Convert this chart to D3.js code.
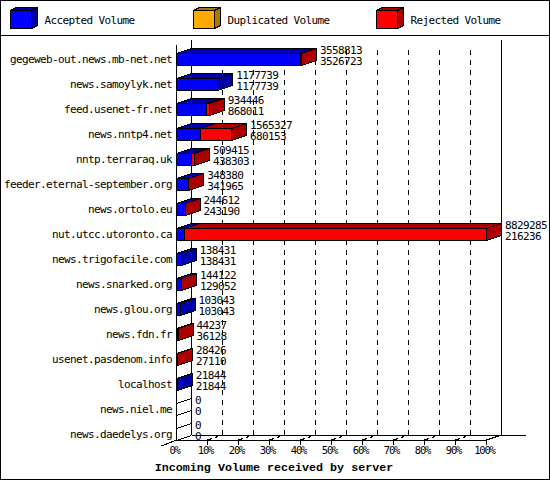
<!DOCTYPE html>
<html>
<head>
<meta charset="utf-8">
<title>Incoming Volume received by server</title>
<script src="https://cdn.jsdelivr.net/npm/d3@7"></script>
<style>
  html, body { margin: 0; padding: 0; background: #fff; }
  svg { display: block; }
  text { font-family: "DejaVu Sans Mono", monospace; font-size: 11px; letter-spacing: -0.62px; fill: #000; }
  .tick-lbl text { font-size: 10.5px; letter-spacing: -1.2px; }
  .title { font-family: "Liberation Mono", monospace; font-size: 11.7px; letter-spacing: 0; font-weight: bold; }
</style>
</head>
<body>
<svg id="chart" width="550" height="480"></svg>
<script>
/* ── Values ──────────────────────────────────────────────── */
const hosts = [
  "gegeweb-out.news.mb-net.net", "news.samoylyk.net", "feed.usenet-fr.net",
  "news.nntp4.net", "nntp.terraraq.uk", "feeder.eternal-september.org",
  "news.ortolo.eu", "nut.utcc.utoronto.ca", "news.trigofacile.com",
  "news.snarked.org", "news.glou.org", "news.fdn.fr",
  "usenet.pasdenom.info", "localhost", "news.niel.me", "news.daedelys.org"
];
const offered = [3558813, 1177739, 934446, 1565327, 509415, 348380, 244612, 8829285,
                 138431, 144122, 103043, 44237, 28426, 21844, 0, 0];
const accepted = [3526723, 1177739, 868011, 680153, 438303, 341965, 243190, 216236,
                  138431, 129052, 103043, 36128, 27110, 21844, 0, 0];
const duplicated = [0, 0, 0, 0, 0, 0, 0, 0, 0, 0, 0, 0, 0, 0, 0, 0];
const rejected = [32090, 0, 66435, 885174, 71112, 6415, 1422, 8613049,
                  0, 15070, 0, 8109, 1316, 0, 0, 0];
const legendNames = ["Accepted Volume", "Duplicated Volume", "Rejected Volume"];
const pctTicks = [0, 10, 20, 30, 40, 50, 60, 70, 80, 90, 100];

const FRONT  = ["#0000ff", "#ffaa00", "#ff0000"];
const SHADE  = ["#0000aa", "#aa7700", "#aa0000"];
const DX = 15, DY = -5;      /* depth of the 3D effect */
const BAR_H = 12;

const svg = d3.select("#chart");

/* ── Scales ──────────────────────────────────────────────── */
const maxVol = d3.max(offered);
const x   = d3.scaleLinear().domain([0, maxVol]).range([176, 486]);
const pct = d3.scaleLinear().domain([0, 100]).range([176, 486]);
const y   = d3.scalePoint().domain(d3.range(hosts.length)).range([59, 434]);
const yTop = 40, yFloor = 440;

const px = v => Math.round(v) + 0.5;
const poly = pts => pts.map(p => p.join(",")).join(" ");

/* ── Frame and legend ────────────────────────────────────── */
svg.append("rect").attr("x", 0.5).attr("y", 0.5).attr("width", 549).attr("height", 479)
  .attr("fill", "#fff").attr("stroke", "#000");
svg.append("line").attr("x1", 0).attr("x2", 550).attr("y1", 35.5).attr("y2", 35.5)
  .attr("stroke", "#000");

const root = svg.append("g").attr("shape-rendering", "crispEdges");

function box3d(g, x0, x1, top, bottom, dx, dy, front, shade, showSide) {
  g.append("polygon")
    .attr("points", poly([[x0, top], [x0 + dx, top + dy], [x1 + dx, top + dy], [x1, top]]))
    .attr("fill", shade).attr("stroke", "#000");
  if (showSide) {
    g.append("polygon")
      .attr("points", poly([[x1, top], [x1 + dx, top + dy], [x1 + dx, bottom + dy], [x1, bottom]]))
      .attr("fill", shade).attr("stroke", "#000");
  }
  g.append("rect").attr("x", x0).attr("y", top).attr("width", x1 - x0).attr("height", bottom - top)
    .attr("fill", front).attr("stroke", "#000");
}

const legendX = d3.scalePoint().domain(d3.range(3)).range([10.5, 376.5]);
legendNames.forEach((name, i) => {
  const lx = legendX(i);
  box3d(root.append("g"), lx, lx + 21, 10.5, 28.5, 6, -3, FRONT[i], SHADE[i], true);
  svg.append("text").attr("x", lx + 34).attr("y", 20).attr("dy", "0.35em").text(name);
});

/* ── Walls, grid, floor ──────────────────────────────────── */
const walls = root.append("g").attr("stroke", "#000").attr("fill", "none");
const backY = yFloor + DY;
walls.append("line").attr("x1", px(x(0)) + DX).attr("x2", px(x(0)) + DX).attr("y1", yTop).attr("y2", backY);
walls.append("line").attr("x1", px(x(maxVol)) + DX).attr("x2", px(x(maxVol)) + DX).attr("y1", yTop).attr("y2", backY);
walls.append("line").attr("x1", px(x(0))).attr("x2", px(x(0))).attr("y1", yTop + 5).attr("y2", yFloor);
walls.append("line").attr("x1", px(x(0)) + DX).attr("x2", 526).attr("y1", backY + 0.5).attr("y2", backY + 0.5);
walls.append("line").attr("x1", px(x(0))).attr("x2", px(x(maxVol))).attr("y1", yFloor + 0.5).attr("y2", yFloor + 0.5);
walls.append("line").attr("x1", px(x(0)) - 15).attr("x2", px(x(0))).attr("y1", yFloor + 6).attr("y2", yFloor);
walls.append("line").attr("x1", px(x(maxVol))).attr("x2", px(x(maxVol)) + DX).attr("y1", yFloor).attr("y2", backY);

pctTicks.slice(1, -1).forEach(t => {
  const gx = px(pct(t));
  walls.append("line").attr("x1", gx + DX).attr("x2", gx + DX).attr("y1", 50).attr("y2", backY)
    .attr("stroke-dasharray", "5,5");
  walls.append("line").attr("x1", gx).attr("x2", gx + DX).attr("y1", yFloor).attr("y2", backY)
    .attr("stroke-dasharray", "5,3,3,4");
});

/* ── Axes ────────────────────────────────────────────────── */
const xAxis = d3.axisBottom(pct).tickValues(pctTicks).tickFormat(d => d + "%").tickSize(5).tickPadding(2);
const gx = svg.append("g").attr("class", "tick-lbl")
  .attr("transform", `translate(0,${yFloor})`).call(xAxis);
gx.select(".domain").remove();
gx.selectAll("line").attr("stroke", "#000").attr("shape-rendering", "crispEdges")
  .attr("display", d => d === 0 ? "none" : null);
gx.selectAll("text").attr("dx", -2);
gx.attr("font-family", null).attr("font-size", null);

const yAxis = d3.axisLeft(y).tickFormat(i => hosts[i]).tickSize(0).tickPadding(0);
const gy = svg.append("g").attr("transform", "translate(172,0)").call(yAxis);
gy.select(".domain").remove();
gy.attr("font-family", null).attr("font-size", null);

/* ── Bars, top row first so lower rows sit in front ──────── */
hosts.forEach((host, i) => {
  const g = root.append("g");
  const top = y(i) - 6 + 0.5, bottom = top + BAR_H;
  const parts = [accepted[i], duplicated[i], rejected[i]];
  let cum = 0;
  let lastColor = 0;
  parts.forEach((v, k) => { if (v > 0) lastColor = k; });

  if (offered[i] === 0) {
    /* empty bar: only the two depth edges are left */
    [top, bottom].forEach(yy => {
      g.append("line").attr("x1", px(x(0))).attr("x2", px(x(0)) + DX)
        .attr("y1", yy).attr("y2", yy + DY).attr("stroke", "#000");
    });
  }

  parts.forEach((v, k) => {
    if (v === 0) return;
    const x0 = px(x(cum));
    const x1 = px(x(cum + v));
    cum += v;
    box3d(g, x0, x1, top, bottom, DX, DY, FRONT[k], SHADE[k], k === lastColor);
  });
});

/* ── Value labels ────────────────────────────────────────── */
hosts.forEach((host, i) => {
  const lx = x(offered[i]) + DX + 4;
  svg.append("text").attr("x", lx).attr("y", y(i) - 9).attr("dy", "0.35em").text(offered[i]);
  svg.append("text").attr("x", lx).attr("y", y(i) + 2).attr("dy", "0.35em").text(accepted[i]);
});

/* ── Title ───────────────────────────────────────────────── */
svg.append("text").attr("class", "title").attr("x", 274).attr("y", 467).attr("dy", "0.35em")
  .attr("text-anchor", "middle").text("Incoming Volume received by server");
</script>
</body>
</html>
